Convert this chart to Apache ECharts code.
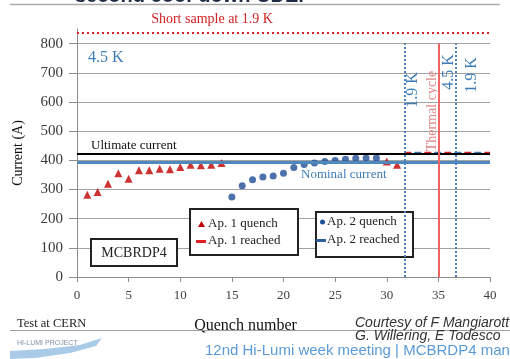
<!DOCTYPE html>
<html><head><meta charset="utf-8">
<script src="https://cdn.jsdelivr.net/npm/echarts@6/dist/echarts.min.js"></script>
<style>html,body{margin:0;padding:0;background:#fff}#c{width:510px;height:359px}</style>
</head><body><div id="c"></div>
<script>
// ---- data ----
const xTicks = [0, 5, 10, 15, 20, 25, 30, 35, 40];
const yTicks = [0, 100, 200, 300, 400, 500, 600, 700, 800];
const quenchAp1 = [1, 2, 3, 4, 5, 6, 7, 8, 9, 10, 11, 12, 13, 14, 30, 31];
const currentAp1 = [282, 291, 320, 356, 337, 366, 366, 371, 369, 377, 385, 383, 385, 391, 396, 385];
const quenchAp2 = [15, 16, 17, 18, 19, 20, 21, 22, 23, 24, 25, 26, 27, 28, 29];
const currentAp2 = [274, 313, 333, 343, 346, 356, 375, 386, 391, 396, 399, 404, 407, 408, 408];
const reachedQuench = [31.7, 40];
const reachedCurrent = [424, 424];
const ultimateCurrent = 423;
const nominalCurrent = 395;
const shortSample = 838;
const temperatureChanges = [31.7, 36.7];
const thermalCycle = 35;
const verticalSpan = [0, 800];

const serif = 'Liberation Serif';
const zip = (xs, ys) => xs.map((x, i) => [x, ys[i]]);

const chart = echarts.init(document.getElementById('c'), null, {renderer: 'canvas'});

const vLine = (x, style) => [{coord: [x, verticalSpan[0]], lineStyle: style}, {coord: [x, verticalSpan[1]]}];
const dottedBlue = {color: '#4a80c0', width: 2, type: [2, 2]};

const option = {
  animation: false,
  grid: {left: 77, right: 20, top: 29, bottom: 82},
  xAxis: {
    type: 'value', min: xTicks[0], max: xTicks[xTicks.length - 1], interval: 5,
    axisLine: {lineStyle: {color: '#8c8c8c', width: 1}},
    axisTick: {show: true, inside: false, length: 5, lineStyle: {color: '#8c8c8c'}},
    axisLabel: {color: '#404040', fontFamily: serif, fontSize: 13, margin: 12},
    splitLine: {show: false},
    name: 'Quench number', nameLocation: 'middle', nameGap: 41,
    nameTextStyle: {fontFamily: serif, fontSize: 16, color: '#111', padding: [0, 76, 0, 0]}
  },
  yAxis: {
    type: 'value', min: 0, max: 850, interval: 100,
    axisLine: {show: true, lineStyle: {color: '#8c8c8c', width: 1}},
    axisTick: {show: true, inside: false, length: 8, lineStyle: {color: '#8c8c8c'}, customValues: yTicks},
    axisLabel: {color: '#3a3a3a', fontFamily: serif, fontSize: 15, margin: 14, customValues: yTicks},
    splitLine: {show: true, lineStyle: {color: '#a3a3a3', width: 1}},
    name: 'Current (A)', nameLocation: 'middle', nameGap: 52, nameRotate: 90,
    nameTextStyle: {fontFamily: serif, fontSize: 14, color: '#111'}
  },
  series: [
    {
      name: 'refs', type: 'line', data: [], z: 2, silent: true,
      markLine: {
        silent: true, symbol: 'none', label: {show: false}, animation: false,
        data: [
          {yAxis: shortSample, lineStyle: {color: '#e02020', width: 2, type: [2, 3]}},
          {yAxis: nominalCurrent, lineStyle: {color: '#4f88bd', width: 3, type: 'solid'}},
          {yAxis: ultimateCurrent, lineStyle: {color: '#000000', width: 2, type: 'solid'}},
          vLine(temperatureChanges[0], dottedBlue),
          vLine(thermalCycle, {color: '#f06464', width: 2, type: 'solid'}),
          vLine(temperatureChanges[1], dottedBlue)
        ]
      }
    },
    {
      name: 'Ap. 1 reached', type: 'line', data: zip(reachedQuench, reachedCurrent), z: 3,
      symbol: 'none', lineStyle: {color: '#e02020', width: 3, type: [7, 13]}
    },
    {
      name: 'Ap. 2 reached', type: 'line', data: zip(reachedQuench, reachedCurrent), z: 3,
      symbol: 'none', lineStyle: {color: '#3d78b8', width: 3, type: [7, 13], dashOffset: 10}
    },
    {
      name: 'Ap. 1 quench', type: 'scatter', data: zip(quenchAp1, currentAp1), z: 4,
      symbol: 'triangle', symbolSize: 8, itemStyle: {color: '#c00000'}
    },
    {
      name: 'Ap. 2 quench', type: 'scatter', data: zip(quenchAp2, currentAp2), z: 4,
      symbol: 'circle', symbolSize: 7, itemStyle: {color: '#1f4e96'}
    }
  ],
  graphic: {elements: [
    // slide header remains
    {type: 'text', z: 10, x: 75, y: -4, style: {text: 'second cool-down CDE.', font: 'bold 20px "Liberation Sans"', fill: '#1f2a44', verticalAlign: 'middle'}},
    {type: 'line', z: 10, shape: {x1: 10, y1: 4.5, x2: 500, y2: 4.5}, style: {stroke: '#aaaaaa', lineWidth: 1.5}},
    // annotations
    {type: 'text', z: 10, x: 212, y: 19, style: {text: 'Short sample at 1.9 K', font: '14px "Liberation Serif"', fill: '#d42020', align: 'center', verticalAlign: 'middle'}},
    {type: 'text', z: 10, x: 88, y: 58, style: {text: '4.5 K', font: '16px "Liberation Serif"', fill: '#3d7cb5', verticalAlign: 'middle'}},
    {type: 'text', z: 10, x: 91, y: 146, style: {text: 'Ultimate current', font: '13px "Liberation Serif"', fill: '#111', verticalAlign: 'middle'}},
    {type: 'text', z: 10, x: 301, y: 175, style: {text: 'Nominal current', font: '13px "Liberation Serif"', fill: '#3d7cb5', verticalAlign: 'middle'}},
    {type: 'text', z: 10, x: 413, y: 90, rotation: Math.PI / 2, style: {text: '1.9 K', font: '16px "Liberation Serif"', fill: '#3d7cb5', align: 'center', verticalAlign: 'middle'}},
    {type: 'text', z: 10, x: 432, y: 111, rotation: Math.PI / 2, style: {text: 'Thermal cycle', font: '14px "Liberation Serif"', fill: '#e38585', align: 'center', verticalAlign: 'middle'}},
    {type: 'text', z: 10, x: 449, y: 72, rotation: Math.PI / 2, style: {text: '4.5 K', font: '16px "Liberation Serif"', fill: '#3d7cb5', align: 'center', verticalAlign: 'middle'}},
    {type: 'text', z: 10, x: 472, y: 75, rotation: Math.PI / 2, style: {text: '1.9 K', font: '16px "Liberation Serif"', fill: '#3d7cb5', align: 'center', verticalAlign: 'middle'}},
    // MCBRDP4 box
    {type: 'rect', z: 1, shape: {x: 91, y: 239, width: 86, height: 27}, style: {fill: '#fff', stroke: '#222', lineWidth: 2}},
    {type: 'text', z: 1, x: 134, y: 253, style: {text: 'MCBRDP4', font: '14px "Liberation Serif"', fill: '#222', align: 'center', verticalAlign: 'middle'}},
    // Ap.1 legend box
    {type: 'rect', z: 1, shape: {x: 190, y: 209, width: 108, height: 46}, style: {fill: '#fff', stroke: '#222', lineWidth: 2}},
    {type: 'polygon', z: 1, shape: {points: [[201.5, 221], [205, 227], [198, 227]]}, style: {fill: '#c00000'}},
    {type: 'text', z: 1, x: 208, y: 224, style: {text: 'Ap. 1 quench', font: '13px "Liberation Serif"', fill: '#222', verticalAlign: 'middle'}},
    {type: 'rect', z: 1, shape: {x: 196, y: 240, width: 10, height: 3}, style: {fill: '#e02020'}},
    {type: 'text', z: 1, x: 208, y: 241, style: {text: 'Ap. 1 reached', font: '13px "Liberation Serif"', fill: '#222', verticalAlign: 'middle'}},
    // Ap.2 legend box
    {type: 'rect', z: 1, shape: {x: 316, y: 212, width: 97, height: 45}, style: {fill: '#fff', stroke: '#222', lineWidth: 2}},
    {type: 'circle', z: 1, shape: {cx: 322.5, cy: 222, r: 2.5}, style: {fill: '#1f4e96'}},
    {type: 'text', z: 1, x: 327, y: 222, style: {text: 'Ap. 2 quench', font: '13px "Liberation Serif"', fill: '#222', verticalAlign: 'middle'}},
    {type: 'rect', z: 1, shape: {x: 316, y: 239, width: 10, height: 3}, style: {fill: '#2f5f9e'}},
    {type: 'text', z: 1, x: 327, y: 240, style: {text: 'Ap. 2 reached', font: '13px "Liberation Serif"', fill: '#222', verticalAlign: 'middle'}},
    // footer
    {type: 'text', z: 10, x: 17, y: 324, style: {text: 'Test at CERN', font: '12.5px "Liberation Serif"', fill: '#222', verticalAlign: 'middle'}},
    {type: 'line', z: 9, shape: {x1: 10, y1: 330.5, x2: 510, y2: 330.5}, style: {stroke: '#a0a0a0', lineWidth: 1}},
    {type: 'text', z: 10, x: 355, y: 323, style: {text: 'Courtesy of F Mangiarott', font: 'italic 14px "Liberation Sans"', fill: '#333', verticalAlign: 'middle'}},
    {type: 'text', z: 10, x: 355, y: 336, style: {text: 'G. Willering, E Todesco', font: 'italic 14px "Liberation Sans"', fill: '#333', verticalAlign: 'middle'}},
    {type: 'polygon', z: 9, shape: {points: [[10, 351], [45, 349], [80, 345], [102, 338], [96, 346], [70, 353], [35, 358], [10, 359]]}, style: {fill: '#a9cbe8'}},
    {type: 'text', z: 10, x: 17, y: 343, style: {text: 'HI-LUMI PROJECT', font: '7px "Liberation Sans"', fill: '#7d8fa8', verticalAlign: 'middle'}},
    {type: 'text', z: 10, x: 205, y: 351, style: {text: '12nd Hi-Lumi week meeting | MCBRDP4 man', font: '15px "Liberation Sans"', fill: '#5b9bd5', verticalAlign: 'middle'}}
  ]}
};
chart.setOption(option);
</script>
</body></html>
